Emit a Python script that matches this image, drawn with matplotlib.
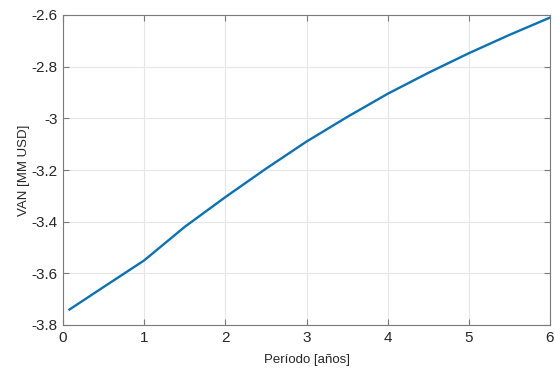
import numpy as np
import matplotlib
matplotlib.use("Agg")
import matplotlib.pyplot as plt

plt.rcParams['font.family'] = ['Liberation Sans', 'DejaVu Sans']

# data
periodo = [0.08, 0.5, 1.0, 1.5, 2.0, 2.5, 3.0, 3.5, 4.0, 4.5, 5.0, 5.5, 6.0]
van = [-3.74, -3.653, -3.55, -3.42, -3.305, -3.195, -3.09, -2.995,
       -2.905, -2.824, -2.748, -2.677, -2.61]

x_ticks = [0, 1, 2, 3, 4, 5, 6]
y_ticks = [-3.8, -3.6, -3.4, -3.2, -3.0, -2.8, -2.6]
y_tick_labels = ['-3.8', '-3.6', '-3.4', '-3.2', '-3', '-2.8', '-2.6']

fig = plt.figure(figsize=(5.55, 3.77), dpi=100)
ax = fig.add_axes([63 / 555, 1 - 325 / 377, (550 - 63) / 555, (325 - 15) / 377])

ax.plot(periodo, van, color='#0a72b5', linewidth=1.7)

ax.set_xlim(0, 6)
ax.set_ylim(-3.8, -2.6)
ax.set_xticks(x_ticks)
ax.set_yticks(y_ticks)
ax.set_yticklabels(y_tick_labels)

ax.grid(True, color='#e6e6e6', linewidth=0.8)
ax.set_axisbelow(True)
for s in ax.spines.values():
    s.set_color('#7a7a7a')
    s.set_linewidth(0.8)
ax.tick_params(direction='in', length=4, width=0.8, color='#7a7a7a',
               labelcolor='#262626', labelsize=11, top=True, right=True, pad=4)

ax.set_xlabel('Período [años]', fontsize=9.5, color='#262626', labelpad=7)
ax.set_ylabel('VAN [MM USD]', fontsize=9.5, color='#262626', labelpad=1)

fig.savefig('out.png', dpi=100)
